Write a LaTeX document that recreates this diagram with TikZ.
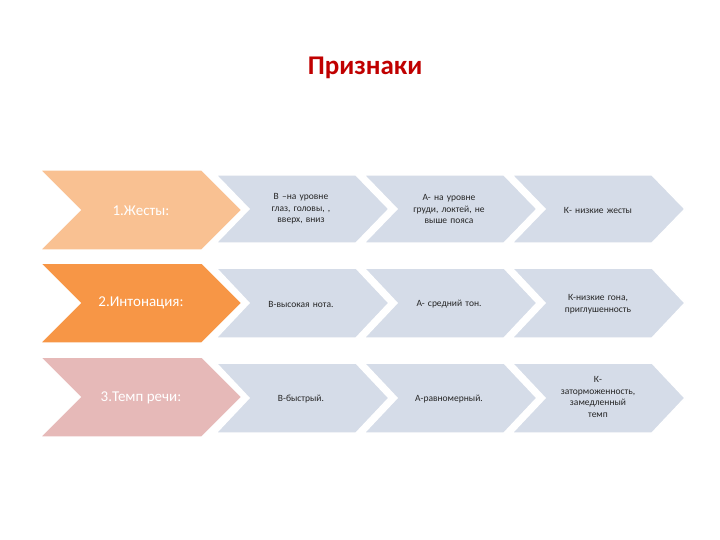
\documentclass[tikz,border=0pt]{standalone}
\usepackage{fontspec}
\setmainfont{Carlito}
\definecolor{orA}{HTML}{F9C192}
\definecolor{orB}{HTML}{F79646}
\definecolor{pk}{HTML}{E6B9B8}
\definecolor{bl}{HTML}{D5DCE8}
\definecolor{ttl}{HTML}{C00000}
\definecolor{tx}{HTML}{262626}
\newcommand{\chevshape}[6]{% x ytop ybot w d fill
  \fill[#6,draw=white,line width=1.5pt,line join=miter] (#1,#2) -- (#1+#4-#5,#2) -- (#1+#4,{(#2+#3)/2}) -- (#1+#4-#5,#3) -- (#1,#3) -- (#1+#5,{(#2+#3)/2}) -- cycle;}
\tikzset{lead/.style={text=white,font=\fontsize{15}{17}\selectfont,align=center},
  cell/.style={text=tx,font=\fontsize{9.5}{11.5}\selectfont,align=center,text width=88pt}}
\begin{document}
\begin{tikzpicture}[x=1pt,y=-1pt]
\useasboundingbox (0,0) rectangle (720,540);
\node[text=ttl,font=\bfseries\fontsize{27}{30}\selectfont] (title) at (365,68) {Признаки};
% row 1
\chevshape{40}{170}{250}{202}{40}{orA}
\chevshape{512}{175}{243}{173}{33}{bl}
\chevshape{364}{175}{243}{173}{33}{bl}
\chevshape{216}{175}{243}{173}{33}{bl}
% row 2
\chevshape{40}{263}{343}{202}{40}{orB}
\chevshape{512}{268}{338}{173}{33}{bl}
\chevshape{364}{268}{338}{173}{33}{bl}
\chevshape{216}{268}{338}{173}{33}{bl}
% row 3
\chevshape{40}{357}{437}{202}{40}{pk}
\chevshape{512}{363}{433}{173}{33}{bl}
\chevshape{364}{363}{433}{173}{33}{bl}
\chevshape{216}{363}{433}{173}{33}{bl}
\node[lead] (l1) at (141,211) {1.Жесты:};
\node[lead] (l2) at (141,303) {2.Интонация:};
\node[lead] (l3) at (141,398) {3.Темп речи:};
\node[cell] (a1) at (301,209) {В –на уровне\\глаз, головы, ,\\вверх, вниз};
\node[cell] (b1) at (449,209) {А- на уровне\\груди, локтей, не\\выше пояса};
\node[cell] (c1) at (598,210) {К- низкие жесты};
\node[cell] (a2) at (301,304) {В-высокая нота.};
\node[cell] (b2) at (449,304) {А- средний тон.};
\node[cell] (c2) at (598,304) {К-низкие гона,\\приглушенность};
\node[cell] (a3) at (301,399) {В-быстрый.};
\node[cell] (b3) at (449,399) {А-равномерный.};
\node[cell] (c3) at (598,397) {К-\\заторможенность,\\замедленный\\темп};
\end{tikzpicture}
\end{document}
